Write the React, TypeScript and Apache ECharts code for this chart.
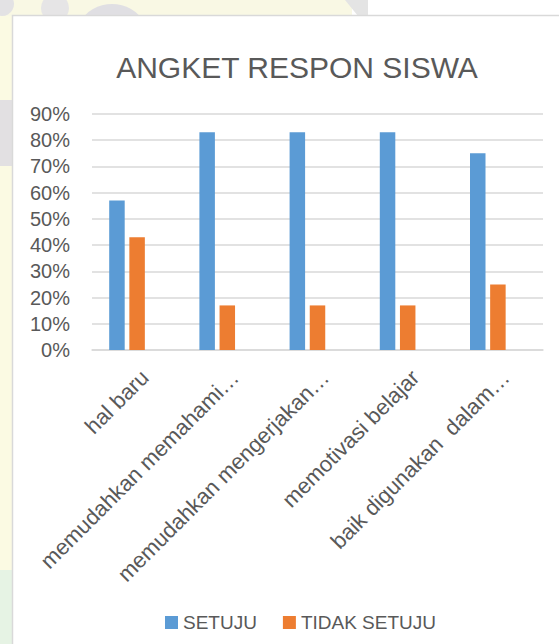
import React, { useEffect, useRef } from "react";
import * as echarts from "echarts";

const categories = [
  "hal baru",
  "memudahkan memahami…",
  "memudahkan mengerjakan…",
  "memotivasi belajar",
  "baik digunakan  dalam…",
];
const setuju = [0.57, 0.83, 0.83, 0.83, 0.75];
const tidakSetuju = [0.43, 0.17, 0.17, 0.17, 0.25];
const kosong = [null, null, null, null, null];
const seriesNames = ["SETUJU", "TIDAK SETUJU", "KOSONG"];
const titleText = "ANGKET RESPON SISWA";

export default function App() {
  const ref = useRef<HTMLDivElement>(null);
  useEffect(() => {
    document.body.style.margin = "0";
    const chart = echarts.init(ref.current!, null, { renderer: "svg" });
    const font = "'Liberation Sans', Arial, sans-serif";
    chart.setOption({
      animation: false,
      backgroundColor: "#ffffff",
      textStyle: { fontFamily: font },
      graphic: [
        { type: "rect", z: -10, shape: { x: 0, y: 0, width: 13, height: 644 }, style: { fill: "#fbfae3" } },
        { type: "rect", z: -10, shape: { x: 0, y: 0, width: 352, height: 16 }, style: { fill: "#f9f8e4" } },
        { type: "ring", z: -9, shape: { cx: 112, cy: 42, r: 38, r0: 22 }, style: { fill: "#e0dfe3" } },
        { type: "circle", z: -9, shape: { cx: 55, cy: 8, r: 14 }, style: { fill: "#e6e5e6" } },
        { type: "circle", z: -9, shape: { cx: 2, cy: 4, r: 12 }, style: { fill: "#e3e2e4" } },
        { type: "polygon", z: -9, shape: { points: [[345, 0], [368, 0], [368, 16], [358, 16]] }, style: { fill: "#e4e4e4" } },
        { type: "rect", z: -9, shape: { x: 0, y: 100, width: 13, height: 66 }, style: { fill: "#e2e0e2" } },
        { type: "rect", z: -9, shape: { x: 0, y: 570, width: 13, height: 74 }, style: { fill: "#e6f3e4" } },
        { type: "rect", z: -8, shape: { x: 12.5, y: 15.5, width: 560, height: 640 }, style: { fill: "#ffffff", stroke: "#d9d9d9", lineWidth: 1.5 } },
      ],
      title: {
        text: titleText,
        left: 292,
        textAlign: "center",
        top: 47,
        textStyle: { fontFamily: font, fontSize: 30, fontWeight: "normal", color: "#595959" },
      },
      legend: {
        data: seriesNames.slice(0, 2),
        left: 160,
        top: 608,
        itemWidth: 13,
        itemHeight: 13,
        itemGap: 26,
        icon: "rect",
        textStyle: { fontFamily: font, fontSize: 19, color: "#595959" },
      },
      grid: { left: 92, right: 16, top: 114, bottom: 294, containLabel: false },
      xAxis: {
        type: "category",
        data: categories,
        axisLine: { lineStyle: { color: "#d9d9d9", width: 1.5 } },
        axisTick: { show: false },
        axisLabel: {
          rotate: 45,
          interval: 0,
          fontFamily: font,
          fontSize: 22,
          color: "#595959",
          margin: 16,
          verticalAlign: "top",
        },
      },
      yAxis: {
        type: "value",
        min: 0,
        max: 0.9,
        interval: 0.1,
        axisLine: { show: false },
        axisTick: { show: false },
        splitLine: { lineStyle: { color: "#d9d9d9", width: 1.5 } },
        axisLabel: {
          fontFamily: font,
          fontSize: 20,
          color: "#595959",
          margin: 22,
          formatter: (v: number) => Math.round(v * 100) + "%",
        },
      },
      series: [
        {
          name: seriesNames[0],
          type: "bar",
          data: setuju,
          barWidth: 15.5,
          barGap: "30%",
          itemStyle: { color: "#5b9bd5" },
        },
        {
          name: seriesNames[1],
          type: "bar",
          data: tidakSetuju,
          barWidth: 15.5,
          barGap: "30%",
          itemStyle: { color: "#ed7d31" },
        },
        {
          name: seriesNames[2],
          type: "bar",
          data: kosong,
          barWidth: 15.5,
          barGap: "30%",
          itemStyle: { color: "#a5a5a5" },
        },
      ],
    });
    return () => chart.dispose();
  }, []);
  return <div ref={ref} style={{ width: 559, height: 644 }} />;
}
